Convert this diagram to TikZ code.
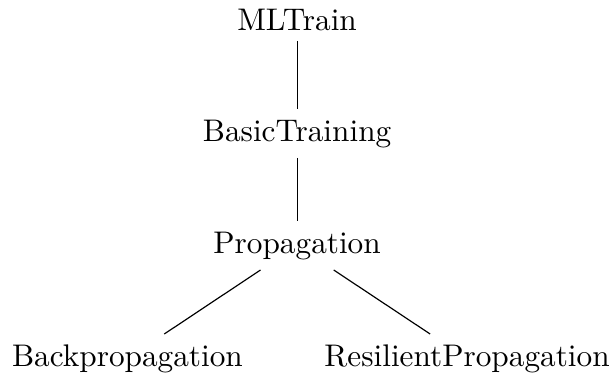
\documentclass[tikz,border=0pt]{standalone}
\usepackage{amsmath,amssymb}
\usepackage{xcolor,tikz}

\begin{document}
\begin{tikzpicture}[x=1pt,y=1pt,every node/.style={font=\fontsize{10.6}{13}\selectfont,align=center},cls/.style={anchor=base},link/.style={draw=black,line width=0.4pt}]
\useasboundingbox (0,0) rectangle (207.1,-127.1);
\node[cls] (mltrain) at (100.7,-10.2) {MLTrain};
\node[cls] (basic) at (100.7,-47.8) {BasicTraining};
\node[cls] (prop) at (100.7,-85.8) {Propagation};
\node[cls] (backprop) at (43.2,-124.1) {Backpropagation};
\node[cls] (rprop) at (158.3,-124.1) {ResilientPropagation};
\draw[link] (mltrain)--(basic);
\draw[link] (basic)--(prop);
\draw[link] (prop)--(backprop);
\draw[link] (prop)--(rprop);
\end{tikzpicture}
\end{document}
